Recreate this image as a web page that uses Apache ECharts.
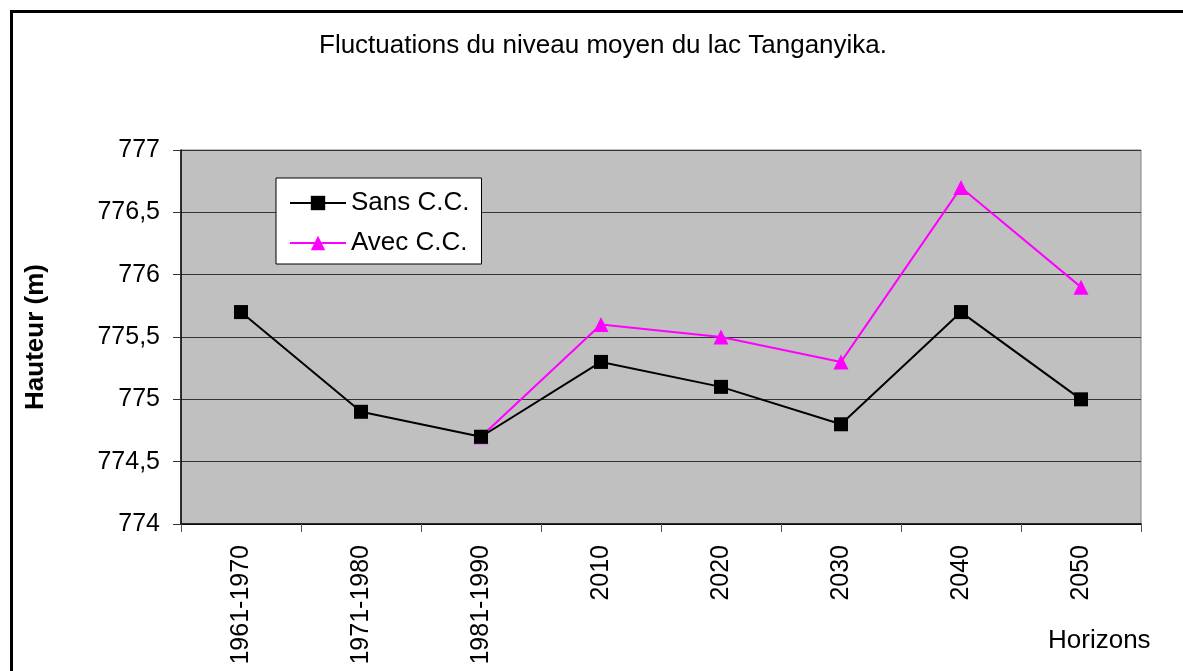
<!DOCTYPE html>
<html>
<head>
<meta charset="utf-8">
<script src="https://cdn.jsdelivr.net/npm/echarts@6/dist/echarts.min.js"></script>
<style>
  html, body { margin: 0; padding: 0; background: #fff; }
  #chart { width: 1183px; height: 671px; }
</style>
</head>
<body>
<div id="chart"></div>
<script>
// données
const horizons = ['1961-1970', '1971-1980', '1981-1990', '2010', '2020', '2030', '2040', '2050'];
const sansCC = [775.7, 774.9, 774.7, 775.3, 775.1, 774.8, 775.7, 775.0];
const avecCC = [null, null, 774.7, 775.6, 775.5, 775.3, 776.7, 775.9];
const yTicks = [774, 774.5, 775, 775.5, 776, 776.5, 777];

const FONT = '"Liberation Sans", Arial, sans-serif';

const myChart = echarts.init(document.getElementById('chart'));

const option = {
  animation: false,
  textStyle: { fontFamily: FONT, color: '#000' },
  graphic: [
    {
      type: 'rect',
      shape: { x: 11.5, y: 11.5, width: 1200, height: 700 },
      style: { fill: 'none', stroke: '#000', lineWidth: 3 },
      z: 100
    },
    {
      type: 'text',
      x: 603, y: 46,
      style: {
        text: 'Fluctuations du niveau moyen du lac Tanganyika.',
        fontFamily: FONT, fontSize: 26, fill: '#000',
        textAlign: 'center', textVerticalAlign: 'middle'
      }
    },
    {
      type: 'text',
      x: 1048, y: 641,
      style: {
        text: 'Horizons',
        fontFamily: FONT, fontSize: 26, fill: '#000',
        textAlign: 'left', textVerticalAlign: 'middle'
      }
    }
  ],
  legend: {
    orient: 'vertical',
    left: 276,
    top: 178,
    padding: [12, 12, 8, 13],
    itemGap: 14,
    itemWidth: 56,
    itemHeight: 18,
    backgroundColor: '#fff',
    borderColor: '#000',
    borderWidth: 1,
    borderRadius: 0,
    textStyle: { fontFamily: FONT, fontSize: 26, color: '#000' },
    data: ['Sans C.C.', 'Avec C.C.']
  },
  grid: {
    left: 181,
    top: 150,
    right: 42,
    bottom: 147,
    show: true,
    backgroundColor: '#C0C0C0',
    borderColor: '#808080',
    borderWidth: 1
  },
  xAxis: {
    type: 'category',
    data: horizons,
    boundaryGap: true,
    axisLine: { lineStyle: { color: '#000', width: 1.5 } },
    axisTick: { show: true, length: 8, alignWithLabel: false, lineStyle: { color: '#555' } },
    axisLabel: {
      rotate: 90,
      margin: 21,
      interval: 0,
      fontFamily: FONT,
      fontSize: 25,
      color: '#000'
    },
    splitLine: { show: false }
  },
  yAxis: {
    type: 'value',
    min: yTicks[0],
    max: yTicks[yTicks.length - 1],
    interval: 0.5,
    name: 'Hauteur (m)',
    nameLocation: 'middle',
    nameGap: 132,
    nameTextStyle: { fontFamily: FONT, fontSize: 26, fontWeight: 'bold', color: '#000' },
    axisLine: { show: true, lineStyle: { color: '#000', width: 1.5 } },
    axisTick: { show: true, length: 8, lineStyle: { color: '#333' } },
    axisLabel: {
      margin: 21,
      fontFamily: FONT,
      fontSize: 25,
      color: '#000',
      formatter: (v) => String(v).replace('.', ',')
    },
    splitLine: { show: true, lineStyle: { color: '#333', width: 1 } }
  },
  series: [
    {
      name: 'Sans C.C.',
      type: 'line',
      data: sansCC,
      symbol: 'rect',
      symbolSize: 14,
      color: '#000',
      lineStyle: { color: '#000', width: 2 },
      itemStyle: { color: '#000' },
      z: 3
    },
    {
      name: 'Avec C.C.',
      type: 'line',
      data: avecCC,
      connectNulls: false,
      symbol: 'triangle',
      symbolSize: 15,
      color: '#FF00FF',
      lineStyle: { color: '#FF00FF', width: 2 },
      itemStyle: { color: '#FF00FF' },
      z: 2
    }
  ]
};

myChart.setOption(option);
</script>
</body>
</html>
